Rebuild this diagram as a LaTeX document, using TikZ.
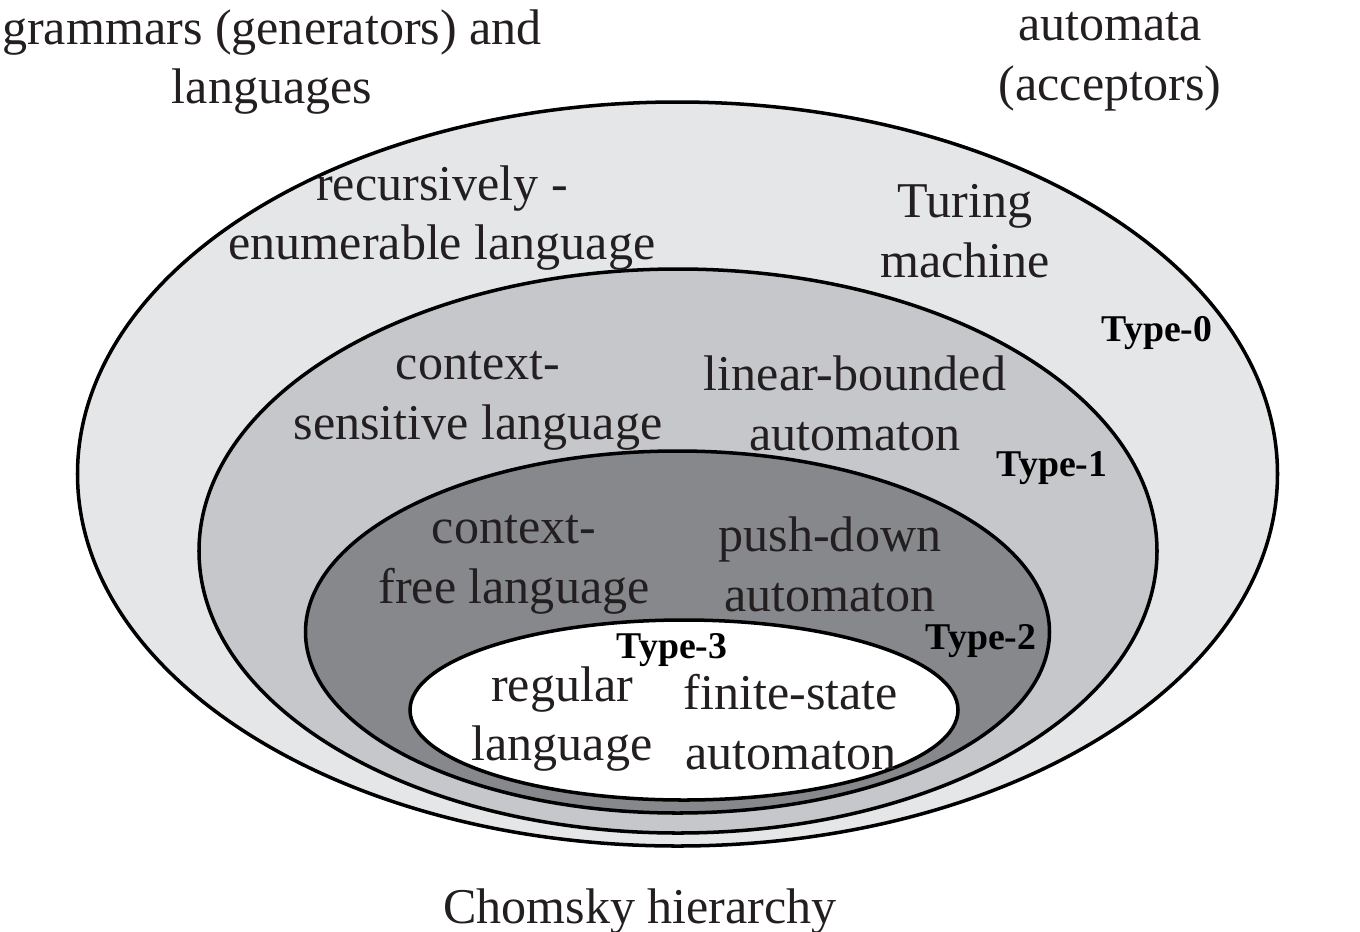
\documentclass[tikz,border=0pt]{standalone}
\usepackage{fontspec}
\setmainfont{Liberation Serif}
\definecolor{ink}{HTML}{231F20}
\definecolor{levelzero}{HTML}{E5E6E8}
\definecolor{levelone}{HTML}{C6C7CA}
\definecolor{leveltwo}{HTML}{87888C}
\tikzset{
  region/.style={draw=black, line width=2pt},
  lbl/.style={text=ink, align=center, inner sep=0pt,
    font=\fontsize{28.5}{34}\selectfont},
  typelbl/.style={text=black, inner sep=0pt,
    font=\fontsize{21.5}{25}\selectfont\bfseries},
}
\begin{document}
\begin{tikzpicture}[x=0.02cm, y=-0.02cm]
  \useasboundingbox (0,0) rectangle (1360,931);

  % nested language classes
  \draw[region, fill=levelzero] (677.5,474) ellipse [x radius=600, y radius=372];
  \draw[region, fill=levelone]  (678,551)   ellipse [x radius=479, y radius=282];
  \draw[region, fill=leveltwo]  (677.5,632) ellipse [x radius=372, y radius=181];
  \draw[region, fill=white]     (684,710)   ellipse [x radius=274, y radius=90];

  % column headings
  \node[lbl] (gram) at (272,62) {grammars (generators) and\\languages};
  \node[lbl] (auto) at (1110,62) {automata\\(acceptors)};

  % Type-0
  \node[lbl] (re)  at (442,218) {recursively -\\enumerable language};
  \node[lbl] (tm)  at (965,231) {Turing\\machine};
  \node[typelbl] (t0) at (1157,333) {Type-0};

  % Type-1
  \node[lbl] (csl) at (478,401) {context-\\sensitive language};
  \node[lbl] (lba) at (855,403) {linear-bounded\\automaton};
  \node[typelbl] (t1) at (1052,468) {Type-1};

  % Type-2
  \node[lbl] (cfl) at (514,565) {context-\\free language};
  \node[lbl] (pda) at (830,564) {push-down\\automaton};
  \node[typelbl] (t2) at (981,641) {Type-2};

  % Type-3
  \node[typelbl] (t3) at (672,650) {Type-3};
  \node[lbl] (rl)  at (562,719) {regular\\language};
  \node[lbl] (fsa) at (791,722) {finite-state\\automaton};

  % caption
  \node[lbl] (cap) at (640,912) {Chomsky hierarchy};
\end{tikzpicture}
\end{document}
